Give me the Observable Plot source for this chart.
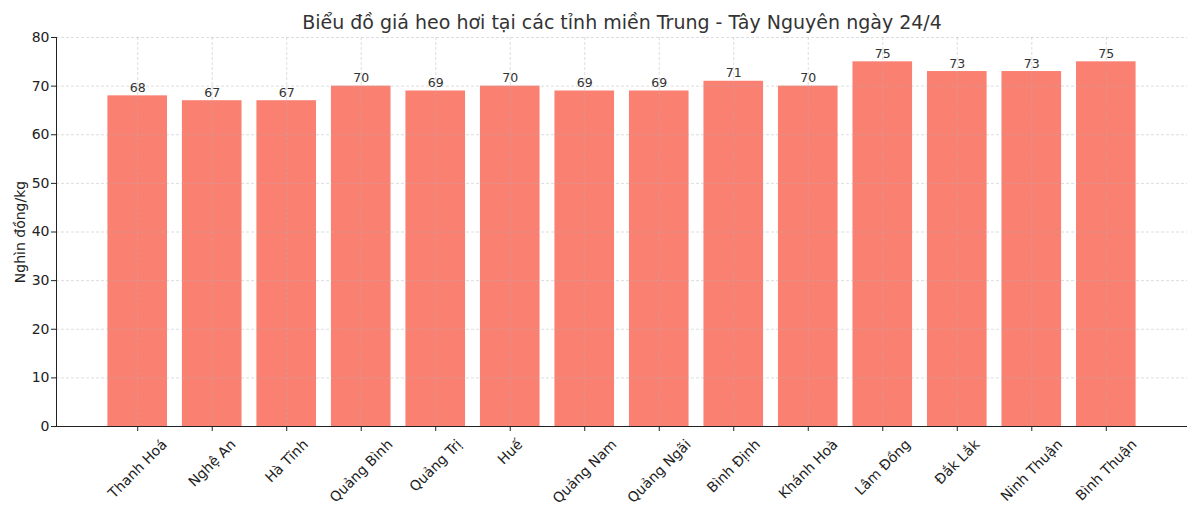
<!DOCTYPE html>
<html>
<head>
<meta charset="utf-8">
<script src="https://cdn.jsdelivr.net/npm/d3@7"></script>
<script src="https://cdn.jsdelivr.net/npm/@observablehq/plot@0.6"></script>
<style>
  html, body { margin: 0; padding: 0; background: #fff; }
</style>
</head>
<body>
<div id="chart"></div>
<script>
const titleText = "Biểu đồ giá heo hơi tại các tỉnh miền Trung - Tây Nguyên ngày 24/4";
const yLabel = "Nghìn đồng/kg";
const categories = ["Thanh Hoá", "Nghệ An", "Hà Tĩnh", "Quảng Bình", "Quảng Trị", "Huế", "Quảng Nam", "Quảng Ngãi", "Bình Định", "Khánh Hoà", "Lâm Đồng", "Đắk Lắk", "Ninh Thuận", "Bình Thuận"];
const prices = [68, 67, 67, 70, 69, 70, 69, 69, 71, 70, 75, 73, 73, 75];
const yTicks = [0, 10, 20, 30, 40, 50, 60, 70, 80];

const data = categories.map((c, i) => ({cat: c, price: prices[i]}));

const FONT = "'DejaVu Sans', sans-serif";
const ctx = document.createElement("canvas").getContext("2d");
ctx.font = "14px 'DejaVu Sans'";
const lineH = 16;

const xLabelMarks = categories.map(c => {
  const L = ctx.measureText(c).width;
  return Plot.text([c], {
    x: d => d,
    frameAnchor: "bottom",
    text: d => d,
    textAnchor: "end",
    lineAnchor: "middle",
    rotate: -45,
    dx: 0.354 * L,
    dy: 10 + 0.354 * lineH,
    fontSize: 14,
    fill: "#222"
  });
});

const chart = Plot.plot({
  width: 1200,
  height: 514,
  marginLeft: 56,
  marginRight: 13,
  marginTop: 37,
  marginBottom: 88,
  style: {fontFamily: FONT, background: "#fff"},
  x: {domain: categories, paddingInner: 0.2, paddingOuter: 0.69, align: 0.5, round: false},
  y: {domain: [0, 80]},
  marks: [
    Plot.barY(data, {x: "cat", y: "price", fill: "#FA8072"}),
    Plot.gridX({stroke: "#b0b0b0", strokeOpacity: 0.55, strokeWidth: 0.8, strokeDasharray: "3,2"}),
    Plot.gridY(yTicks, {stroke: "#b0b0b0", strokeOpacity: 0.55, strokeWidth: 0.8, strokeDasharray: "3,2"}),
    Plot.axisY({ticks: yTicks, tickSize: 5, tickPadding: 2, fontSize: 14, label: null, color: "#222"}),
    Plot.axisX({tickSize: 5, tickFormat: () => "", label: null, color: "#222"}),
    Plot.ruleY([0], {stroke: "#222", strokeWidth: 1}),
    Plot.frame({anchor: "left", stroke: "#222", strokeWidth: 1}),
    ...xLabelMarks,
    Plot.text(data, {x: "cat", y: "price", text: d => String(d.price), dy: -4, lineAnchor: "bottom", fontSize: 12.5, fill: "#333"}),
    Plot.text([titleText], {frameAnchor: "top", text: d => d, dy: -15, lineAnchor: "middle", fontSize: 19, fill: "#333"}),
    Plot.text([yLabel], {frameAnchor: "left", text: d => d, dx: -36, rotate: -90, lineAnchor: "middle", textAnchor: "middle", fontSize: 14, fill: "#222"})
  ]
});

document.getElementById("chart").appendChild(chart);
</script>
</body>
</html>
